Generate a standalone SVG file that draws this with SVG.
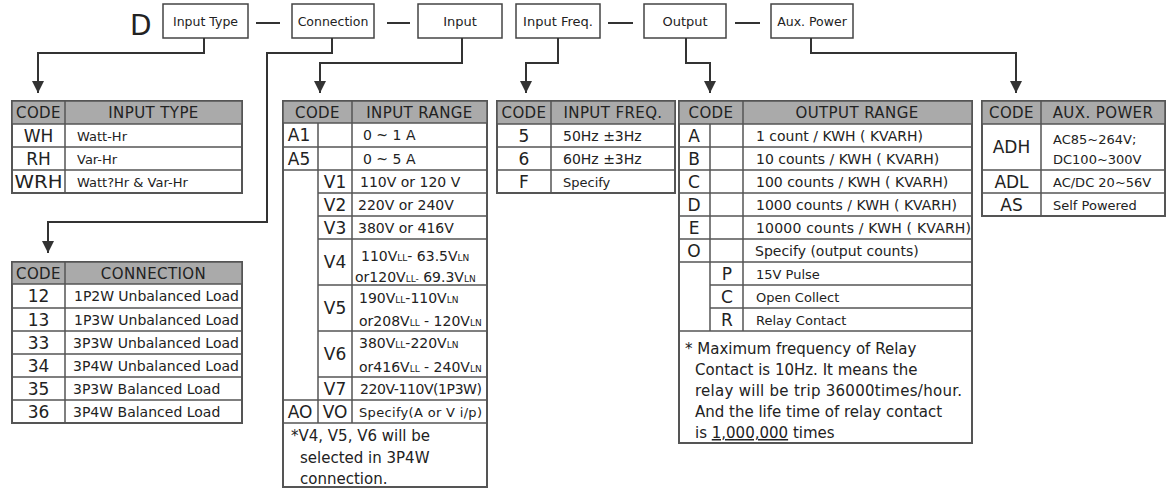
<svg xmlns="http://www.w3.org/2000/svg" width="1167" height="488" viewBox="0 0 1167 488">
<defs>
<style>
.bg{fill:#fff}
.box{fill:#fff;stroke:#444;stroke-width:1.5}
.tbl{fill:#fff;stroke:#555;stroke-width:2}
.hdr{fill:#aaa;stroke:#555;stroke-width:1.5}
.ln{stroke:#555;stroke-width:1.5;fill:none}
.conn{fill:none;stroke:#333;stroke-width:2}
text{font-family:"DejaVu Sans","Noto Sans",sans-serif;fill:#222}
.lbl{font-size:12.5px;text-anchor:middle}
.code{font-size:17px;text-anchor:middle}
.h{font-size:15px;text-anchor:middle;letter-spacing:0.4px}
.d{font-size:14px}
.ds{font-size:13px}
.n{font-size:15px}
.sub{font-size:9px}
</style>
<marker id="arr" markerUnits="userSpaceOnUse" markerWidth="12" markerHeight="12" viewBox="0 0 12 12" refX="12" refY="6" orient="auto">
<path d="M0,0 L12,6 L0,12 z" fill="#333"/>
</marker>
</defs>
<rect class="bg" x="0" y="0" width="1167" height="488"/>

<g id="title">
<text x="130" y="35" style="font-size:28px">D</text>
<line class="conn" x1="256" y1="23" x2="280" y2="23"/>
<line class="conn" x1="387" y1="23" x2="410" y2="23"/>
<line class="conn" x1="608" y1="23" x2="633" y2="23"/>
<line class="conn" x1="735" y1="23" x2="760" y2="23"/>
</g>

<g id="node-input-type">
<rect class="box" x="163" y="4" width="85" height="34"/>
<text class="lbl" x="205.5" y="26">Input Type</text>
</g>
<g id="node-connection">
<rect class="box" x="292" y="4" width="82" height="34"/>
<text class="lbl" x="333" y="26">Connection</text>
</g>
<g id="node-input">
<rect class="box" x="418" y="4" width="84" height="34"/>
<text class="lbl" x="460" y="26" style="font-size:13px">Input</text>
</g>
<g id="node-input-freq">
<rect class="box" x="516" y="4" width="84" height="34"/>
<text class="lbl" x="558" y="26" style="font-size:13px">Input Freq.</text>
</g>
<g id="node-output">
<rect class="box" x="644" y="4" width="82" height="34"/>
<text class="lbl" x="685" y="26" style="font-size:13px">Output</text>
</g>
<g id="node-aux-power">
<rect class="box" x="771" y="4" width="82" height="34"/>
<text class="lbl" x="812" y="26">Aux. Power</text>
</g>

<g id="connectors">
<path class="conn" d="M204,38 V53 H38 V93" marker-end="url(#arr)"/>
<path class="conn" d="M332,38 V53 H267 V222 H48 V253" marker-end="url(#arr)"/>
<path class="conn" d="M462,38 V63 H320 V93" marker-end="url(#arr)"/>
<path class="conn" d="M558,38 V63 H526 V93" marker-end="url(#arr)"/>
<path class="conn" d="M686,38 V63 H710 V93" marker-end="url(#arr)"/>
<path class="conn" d="M811,38 V53 H1016 V93" marker-end="url(#arr)"/>
</g>

<g id="table-input-type">
<rect class="tbl" x="12" y="101" width="230" height="92"/>
<rect class="hdr" x="12" y="101" width="230" height="23"/>
<line class="ln" x1="12" y1="147" x2="242" y2="147"/>
<line class="ln" x1="12" y1="170" x2="242" y2="170"/>
<line class="ln" x1="65" y1="101" x2="65" y2="193"/>
<text class="h" x="38.5" y="118">CODE</text>
<text class="h" x="153.5" y="118">INPUT TYPE</text>
<text class="code" x="38.5" y="142">WH</text>
<text class="code" x="38.5" y="165">RH</text>
<text class="code" x="38.5" y="188" textLength="48" lengthAdjust="spacingAndGlyphs">WRH</text>
<text class="ds" x="77" y="140.5">Watt-Hr</text>
<text class="ds" x="77" y="163.5">Var-Hr</text>
<text class="ds" x="77" y="186.5">Watt?Hr &amp; Var-Hr</text>
</g>

<g id="table-connection">
<rect class="tbl" x="12" y="262" width="230" height="161"/>
<rect class="hdr" x="12" y="262" width="230" height="22"/>
<line class="ln" x1="12" y1="308" x2="242" y2="308"/>
<line class="ln" x1="12" y1="331" x2="242" y2="331"/>
<line class="ln" x1="12" y1="354" x2="242" y2="354"/>
<line class="ln" x1="12" y1="377" x2="242" y2="377"/>
<line class="ln" x1="12" y1="400" x2="242" y2="400"/>
<line class="ln" x1="65" y1="262" x2="65" y2="423"/>
<text class="h" x="38.5" y="278.5">CODE</text>
<text class="h" x="153.5" y="278.5">CONNECTION</text>
<text class="code" x="38.5" y="302">12</text>
<text class="code" x="38.5" y="325.5">13</text>
<text class="code" x="38.5" y="348.5">33</text>
<text class="code" x="38.5" y="371.5">34</text>
<text class="code" x="38.5" y="394.5">35</text>
<text class="code" x="38.5" y="417.5">36</text>
<text class="d" x="74" y="301" textLength="165">1P2W Unbalanced Load</text>
<text class="d" x="74" y="324.5" textLength="165">1P3W Unbalanced Load</text>
<text class="d" x="73" y="347.5" textLength="166">3P3W Unbalanced Load</text>
<text class="d" x="73" y="370.5" textLength="166">3P4W Unbalanced Load</text>
<text class="d" x="73" y="393.5">3P3W Balanced Load</text>
<text class="d" x="73" y="416.5">3P4W Balanced Load</text>
</g>

<g id="table-input-range">
<rect class="tbl" x="283" y="101" width="204" height="386"/>
<rect class="hdr" x="283" y="101" width="204" height="22"/>
<line class="ln" x1="283" y1="147" x2="487" y2="147"/>
<line class="ln" x1="283" y1="170" x2="487" y2="170"/>
<line class="ln" x1="318" y1="193" x2="487" y2="193"/>
<line class="ln" x1="318" y1="216" x2="487" y2="216"/>
<line class="ln" x1="318" y1="239" x2="487" y2="239"/>
<line class="ln" x1="318" y1="285" x2="487" y2="285"/>
<line class="ln" x1="318" y1="331" x2="487" y2="331"/>
<line class="ln" x1="318" y1="377" x2="487" y2="377"/>
<line class="ln" x1="283" y1="400" x2="487" y2="400"/>
<line class="ln" x1="283" y1="423" x2="487" y2="423"/>
<line class="ln" x1="318" y1="123" x2="318" y2="423"/>
<line class="ln" x1="352" y1="101" x2="352" y2="423"/>
<text class="h" x="317.5" y="117.5">CODE</text>
<text class="h" x="419.5" y="117.5">INPUT RANGE</text>
<text class="code" x="299" y="141">A1</text>
<text class="code" x="299" y="164.5">A5</text>
<text class="code" x="335" y="187.5">V1</text>
<text class="code" x="335" y="210.5">V2</text>
<text class="code" x="335" y="233.5">V3</text>
<text class="code" x="335" y="268">V4</text>
<text class="code" x="335" y="314">V5</text>
<text class="code" x="335" y="360">V6</text>
<text class="code" x="335" y="394.5">V7</text>
<text class="code" x="300" y="417.5">AO</text>
<text class="code" x="335" y="417.5">VO</text>
<text class="d" x="363" y="140">0 ~ 1 A</text>
<text class="d" x="363" y="163.5">0 ~ 5 A</text>
<text class="d" x="360" y="186.5">110V or 120 V</text>
<text class="d" x="358" y="209.5">220V or 240V</text>
<text class="d" x="358" y="232.5">380V or 416V</text>
<text class="d" x="361" y="261">110V<tspan class="sub">LL</tspan>- 63.5V<tspan class="sub">LN</tspan></text>
<text class="d" x="355" y="282">or120V<tspan class="sub">LL-</tspan> 69.3V<tspan class="sub">LN</tspan></text>
<text class="d" x="359" y="303">190V<tspan class="sub">LL</tspan>-110V<tspan class="sub">LN</tspan></text>
<text class="d" x="359" y="326">or208V<tspan class="sub">LL</tspan> - 120V<tspan class="sub">LN</tspan></text>
<text class="d" x="359" y="348">380V<tspan class="sub">LL</tspan>-220V<tspan class="sub">LN</tspan></text>
<text class="d" x="359" y="372">or416V<tspan class="sub">LL</tspan> - 240V<tspan class="sub">LN</tspan></text>
<text class="d" x="360" y="394" textLength="122">220V-110V(1P3W)</text>
<text class="ds" x="359" y="416.5" textLength="123">Specify(A or V i/p)</text>
<text class="n" x="291" y="441">*V4, V5, V6 will be</text>
<text class="n" x="300" y="463">selected in 3P4W</text>
<text class="n" x="300" y="484">connection.</text>
</g>

<g id="table-input-freq">
<rect class="tbl" x="497" y="101" width="178" height="92"/>
<rect class="hdr" x="497" y="101" width="178" height="23"/>
<line class="ln" x1="497" y1="147" x2="675" y2="147"/>
<line class="ln" x1="497" y1="170" x2="675" y2="170"/>
<line class="ln" x1="551" y1="101" x2="551" y2="193"/>
<text class="h" x="524" y="118">CODE</text>
<text class="h" x="613" y="118">INPUT FREQ.</text>
<text class="code" x="524" y="142">5</text>
<text class="code" x="524" y="165">6</text>
<text class="code" x="524" y="188">F</text>
<text class="d" x="563" y="140.5">50Hz ±3Hz</text>
<text class="d" x="563" y="163.5">60Hz ±3Hz</text>
<text class="ds" x="563" y="186.5">Specify</text>
</g>

<g id="table-output">
<rect class="tbl" x="679" y="101" width="293" height="342"/>
<rect class="hdr" x="679" y="101" width="293" height="23"/>
<line class="ln" x1="679" y1="147" x2="972" y2="147"/>
<line class="ln" x1="679" y1="170" x2="972" y2="170"/>
<line class="ln" x1="679" y1="193" x2="972" y2="193"/>
<line class="ln" x1="679" y1="216" x2="972" y2="216"/>
<line class="ln" x1="679" y1="239" x2="972" y2="239"/>
<line class="ln" x1="679" y1="262" x2="972" y2="262"/>
<line class="ln" x1="710" y1="285" x2="972" y2="285"/>
<line class="ln" x1="710" y1="308" x2="972" y2="308"/>
<line class="ln" x1="679" y1="331" x2="972" y2="331"/>
<line class="ln" x1="710" y1="124" x2="710" y2="331"/>
<line class="ln" x1="743" y1="101" x2="743" y2="331"/>
<text class="h" x="711" y="118">CODE</text>
<text class="h" x="857" y="118">OUTPUT RANGE</text>
<text class="code" x="694" y="142">A</text>
<text class="code" x="694" y="165">B</text>
<text class="code" x="694" y="188">C</text>
<text class="code" x="694" y="211">D</text>
<text class="code" x="694" y="234">E</text>
<text class="code" x="694" y="257">O</text>
<text class="code" x="727" y="280">P</text>
<text class="code" x="727" y="303">C</text>
<text class="code" x="727" y="326">R</text>
<text class="d" x="756" y="140.5">1 count / KWH ( KVARH)</text>
<text class="d" x="756" y="163.5">10 counts / KWH ( KVARH)</text>
<text class="d" x="756" y="186.5">100 counts / KWH ( KVARH)</text>
<text class="d" x="756" y="209.5">1000 counts / KWH ( KVARH)</text>
<text class="d" x="756" y="232.5" textLength="215">10000 counts / KWH ( KVARH)</text>
<text class="d" x="755" y="255.5">Specify (output counts)</text>
<text class="ds" x="756" y="278.5">15V Pulse</text>
<text class="ds" x="756" y="301.5">Open Collect</text>
<text class="ds" x="756" y="324.5">Relay Contact</text>
<text class="n" x="685" y="354">* Maximum frequency of Relay</text>
<text class="n" x="695" y="375">Contact is 10Hz. It means the</text>
<text class="n" x="695" y="396" textLength="267">relay will be trip 36000times/hour.</text>
<text class="n" x="695" y="417">And the life time of relay contact</text>
<text class="n" x="695" y="438">is <tspan text-decoration="underline">1,000,000</tspan> times</text>
</g>

<g id="table-aux-power">
<rect class="tbl" x="982" y="101" width="183" height="115"/>
<rect class="hdr" x="982" y="101" width="183" height="23"/>
<line class="ln" x1="982" y1="170" x2="1165" y2="170"/>
<line class="ln" x1="982" y1="193" x2="1165" y2="193"/>
<line class="ln" x1="1041" y1="101" x2="1041" y2="216"/>
<text class="h" x="1011.5" y="118">CODE</text>
<text class="h" x="1103" y="118">AUX. POWER</text>
<text class="code" x="1011.5" y="153">ADH</text>
<text class="code" x="1011.5" y="188">ADL</text>
<text class="code" x="1011.5" y="211">AS</text>
<text class="ds" x="1053" y="144">AC85~264V;</text>
<text class="ds" x="1053" y="164">DC100~300V</text>
<text class="ds" x="1053" y="186.5">AC/DC 20~56V</text>
<text class="ds" x="1053" y="209.5">Self Powered</text>
</g>
</svg>
